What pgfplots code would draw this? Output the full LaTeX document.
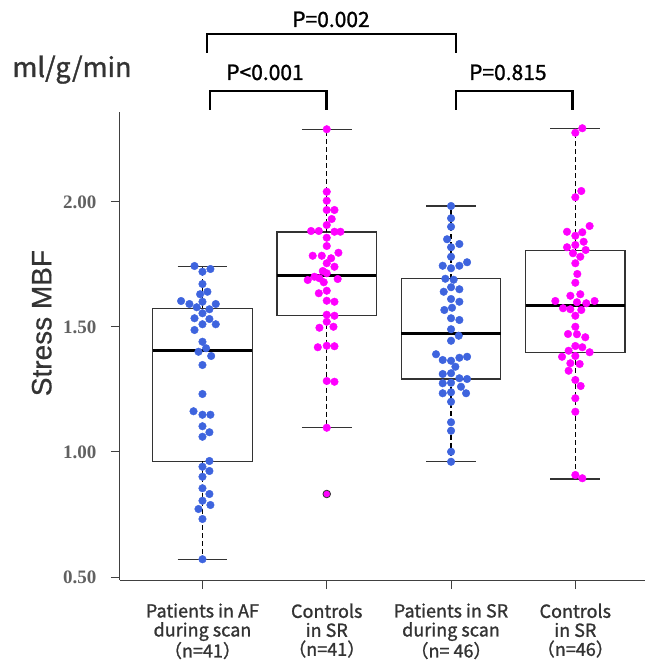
\documentclass[border=0pt]{standalone}
\usepackage{pgfplots}
\pgfplotsset{compat=1.18}
\usepackage{fontspec}
\newfontfamily\jp[FakeBold=1.2]{Noto Sans CJK JP}
\newfontfamily\tickfont{Liberation Serif}
\newfontfamily\arial[FakeBold=0.6]{Liberation Sans}
\definecolor{dotblue}{RGB}{62,100,222}
\definecolor{dotmag}{RGB}{255,0,255}
\definecolor{txt}{RGB}{51,51,51}

\begin{document}
\begin{tikzpicture}
\begin{axis}[
    scale only axis,
    width=525pt, height=468pt,
    xmin=0.336, xmax=4.56,
    ymin=0.488, ymax=2.36,
    clip=false,
    axis x line*=bottom,
    axis y line*=left,
    axis line style={-, draw=black!75, line width=1pt},
    tick align=outside,
    major tick length=9pt,
    tick style={draw=black!75, line width=1pt},
    xtick={1,2,3,4},
    xticklabels={{Patients in AF\\during scan\\（n=41）},{Controls\\in SR\\（n=41）},{Patients in SR\\during scan\\（n= 46）},{Controls\\in SR\\（n=46）}},
    xticklabel style={align=center, font=\jp\fontsize{18}{19}\selectfont, text=txt, yshift=-11pt},
    ytick={0.5,1,1.5,2},
    yticklabels={0.50,1.00,1.50,2.00},
    yticklabel style={font=\tickfont\bfseries\fontsize{19}{19}\selectfont, text=black!62, xshift=-11pt},
    ylabel={Stress MBF},
    ylabel style={font=\arial\fontsize{28}{28}\selectfont, text=txt,
        at={(axis description cs:-0.149,0.549)}, anchor=center},
    boxline/.style={draw=black!80, line width=1.2pt, line join=miter},
    med/.style={draw=black, line width=3pt},
    whisk/.style={draw=black, line width=1.1pt, dash pattern=on 5pt off 3pt},
    bracket/.style={draw=black, line width=2.8pt, line join=miter},
]

% dots: patients in AF
\addplot[only marks, mark=*, mark size=3.8pt, mark options={fill=dotblue, draw=dotblue}]
coordinates {
(0.936,1.744) (1.064,1.732) (1.0,1.721) (1.0,1.672) (0.981,1.631) (1.040,1.641)
(0.828,1.604) (0.895,1.592) (1.0,1.601) (1.107,1.592) (0.954,1.579) (1.056,1.571)
(1.0,1.555) (0.936,1.535) (1.056,1.532) (1.0,1.511) (1.107,1.511) (0.936,1.488)
(1.0,1.441) (1.029,1.415) (0.968,1.401) (1.070,1.384) (1.0,1.348) (1.0,1.232)
(0.928,1.163) (1.0,1.149) (1.064,1.149) (1.0,1.103) (1.056,1.079) (1.0,1.061)
(1.056,0.964) (1.0,0.941) (1.056,0.924) (1.0,0.901) (1.0,0.855) (1.056,0.832)
(1.0,0.805) (1.064,0.788) (0.968,0.772) (1.0,0.732) (1.0,0.571)
};
% dots: controls 1
\addplot[only marks, mark=*, mark size=3.8pt, mark options={fill=dotmag, draw=dotmag}]
coordinates {
(2.0,2.291) (2.0,2.041) (2.0,2.005) (2.0,1.968) (2.062,1.968) (2.040,1.932)
(2.0,1.908) (1.874,1.884) (1.936,1.884) (2.062,1.881) (2.110,1.881) (2.0,1.857)
(2.0,1.824) (1.887,1.785) (1.960,1.785) (2.094,1.797) (2.035,1.775) (2.0,1.755)
(2.062,1.741) (1.968,1.724) (2.0,1.715) (1.901,1.701) (1.847,1.688) (1.941,1.695)
(2.088,1.692) (1.976,1.679) (1.936,1.635) (2.0,1.645) (2.0,1.605) (2.062,1.601)
(2.0,1.549) (2.062,1.545) (2.0,1.521) (1.941,1.497) (2.054,1.501) (1.928,1.419)
(2.0,1.425) (2.062,1.423) (2.0,1.284) (2.062,1.281) (2.0,1.097)
};
% outlier
\addplot[only marks, mark=*, mark size=3.8pt, mark options={fill=dotmag, draw=black!80, line width=0.8pt}]
coordinates {(2.0,0.832)};
% dots: patients in SR
\addplot[only marks, mark=*, mark size=3.8pt, mark options={fill=dotblue, draw=dotblue}]
coordinates {
(3.0,1.984) (3.0,1.935) (3.0,1.901) (2.968,1.851) (3.067,1.832) (3.0,1.819)
(3.0,1.781) (2.933,1.745) (3.0,1.735) (3.067,1.745) (3.129,1.759) (2.954,1.693)
(3.021,1.689) (3.0,1.659) (3.067,1.651) (2.941,1.641) (3.0,1.612) (3.067,1.601)
(3.008,1.577) (2.946,1.568) (3.0,1.535) (3.067,1.528) (3.0,1.491) (3.062,1.465)
(3.0,1.445) (2.879,1.391) (2.933,1.368) (3.0,1.365) (3.067,1.377) (3.129,1.381)
(3.035,1.341) (2.933,1.312) (3.0,1.315) (3.067,1.295) (3.129,1.292) (2.933,1.275)
(3.0,1.277) (3.080,1.261) (2.933,1.235) (3.0,1.239) (3.121,1.235) (3.0,1.201)
(3.0,1.119) (3.0,1.085) (3.0,1.001) (3.0,0.961)
};
% dots: controls 2
\addplot[only marks, mark=*, mark size=3.8pt, mark options={fill=dotmag, draw=dotmag}]
coordinates {
(4.056,2.295) (4.0,2.277) (4.048,2.044) (4.0,2.019) (4.115,1.904) (3.933,1.881)
(4.056,1.879) (4.0,1.865) (4.067,1.841) (3.933,1.819) (4.0,1.828) (4.083,1.808)
(3.981,1.795) (4.040,1.781) (4.0,1.755) (4.016,1.712) (4.0,1.677) (3.960,1.625)
(4.040,1.631) (3.839,1.604) (3.901,1.575) (3.960,1.571) (4.013,1.599) (4.048,1.568)
(4.088,1.595) (4.155,1.604) (4.0,1.545) (4.0,1.501) (3.941,1.472) (4.013,1.471)
(4.080,1.459) (4.0,1.424) (4.056,1.419) (4.115,1.399) (3.946,1.405) (3.893,1.381)
(4.0,1.384) (3.960,1.355) (4.035,1.352) (3.946,1.325) (4.0,1.288) (4.043,1.264)
(4.0,1.215) (4.0,1.161) (4.0,0.908) (4.056,0.895)
};

% box 1
\addplot[boxline] coordinates {(0.6,0.963) (1.4,0.963) (1.4,1.575) (0.6,1.575) (0.6,0.963) (1.4,0.963)};
\addplot[med] coordinates {(0.6,1.404) (1.4,1.404)};
\addplot[whisk] coordinates {(1,1.575) (1,1.743)};
\addplot[whisk] coordinates {(1,0.963) (1,0.571)};
\addplot[boxline] coordinates {(0.8,1.743) (1.2,1.743)};
\addplot[boxline] coordinates {(0.8,0.571) (1.2,0.571)};
% box 2
\addplot[boxline] coordinates {(1.6,1.545) (2.4,1.545) (2.4,1.880) (1.6,1.880) (1.6,1.545) (2.4,1.545)};
\addplot[med] coordinates {(1.6,1.707) (2.4,1.707)};
\addplot[whisk] coordinates {(2,1.880) (2,2.291)};
\addplot[whisk] coordinates {(2,1.545) (2,1.097)};
\addplot[boxline] coordinates {(1.8,2.291) (2.2,2.291)};
\addplot[boxline] coordinates {(1.8,1.097) (2.2,1.097)};
% box 3
\addplot[boxline] coordinates {(2.6,1.292) (3.4,1.292) (3.4,1.693) (2.6,1.693) (2.6,1.292) (3.4,1.292)};
\addplot[med] coordinates {(2.6,1.475) (3.4,1.475)};
\addplot[whisk] coordinates {(3,1.693) (3,1.984)};
\addplot[whisk] coordinates {(3,1.292) (3,0.961)};
\addplot[boxline] coordinates {(2.8,1.984) (3.2,1.984)};
\addplot[boxline] coordinates {(2.8,0.961) (3.2,0.961)};
% box 4
\addplot[boxline] coordinates {(3.6,1.399) (4.4,1.399) (4.4,1.807) (3.6,1.807) (3.6,1.399) (4.4,1.399)};
\addplot[med] coordinates {(3.6,1.584) (4.4,1.584)};
\addplot[whisk] coordinates {(4,1.807) (4,2.295)};
\addplot[whisk] coordinates {(4,1.399) (4,0.892)};
\addplot[boxline] coordinates {(3.8,2.295) (4.2,2.295)};
\addplot[boxline] coordinates {(3.8,0.892) (4.2,0.892)};

% significance brackets
\addplot[bracket] coordinates {(1.036,2.596) (1.036,2.672) (3.04,2.672) (3.04,2.596)};
\addplot[bracket] coordinates {(1.06,2.368) (1.06,2.444) (2.0,2.444) (2.0,2.368)};
\addplot[bracket] coordinates {(3.04,2.368) (3.04,2.444) (3.98,2.444) (3.98,2.368)};

\node[font=\jp\fontsize{21}{21}\selectfont, anchor=base] at (axis cs:2.034,2.70) {P=0.002};
\node[font=\jp\fontsize{21}{21}\selectfont, anchor=base] at (axis cs:1.503,2.488) {P<0.001};
\node[font=\jp\fontsize{21}{21}\selectfont, anchor=base] at (axis cs:3.457,2.488) {P=0.815};
\node[font=\jp\fontsize{27}{27}\selectfont, text=txt, anchor=base] at (axis cs:-0.05,2.5) {ml/g/min};

\path (axis cs:-0.629,0.14) rectangle (axis cs:4.56,2.808);
\end{axis}
\end{tikzpicture}
\end{document}
